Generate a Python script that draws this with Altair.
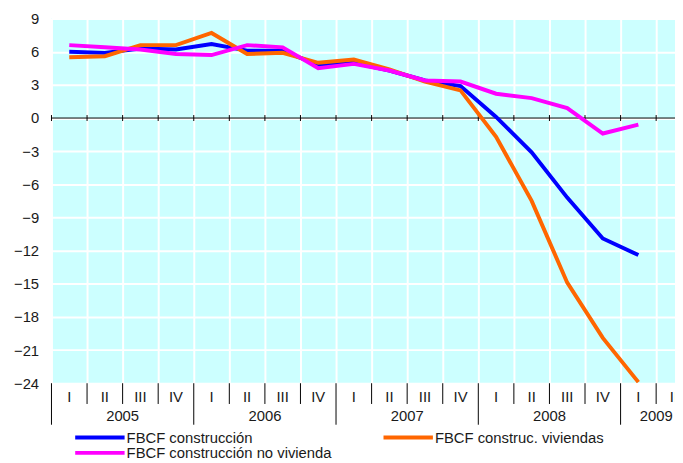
import altair as alt
import pandas as pd

# ---- data ----
years = ["2005", "2006", "2007", "2008", "2009"]
year_quarters = [4, 4, 4, 4, 2]
quarter_names = ["I", "II", "III", "IV"]
construccion = [6.0, 5.9, 6.3, 6.2, 6.7, 6.1, 6.1, 4.8, 5.0, 4.3, 3.4, 2.9, 0.1, -3.1, -7.2, -10.9, -12.4]
viviendas = [5.5, 5.6, 6.6, 6.6, 7.7, 5.8, 5.9, 5.0, 5.3, 4.4, 3.3, 2.5, -1.7, -7.5, -14.9, -19.9, -23.9]
no_vivienda = [6.6, 6.4, 6.2, 5.8, 5.7, 6.6, 6.4, 4.5, 4.9, 4.3, 3.4, 3.3, 2.2, 1.8, 0.9, -1.4, -0.6]
y_ticks = list(range(-24, 10, 3))

series_names = ["FBCF construcción", "FBCF construc. viviendas", "FBCF construcción no vivienda"]
series_colors = ["#0000FF", "#FF6600", "#FF00FF"]

N_COLS = sum(year_quarters)   # 2005 I .. 2009 II
X_MAX = 17.53                 # visible part of the axis
W, H = 631, 369
FONT = "Liberation Sans"
FS = 15
TXT = "#1a1a1a"

# ---- tables ----
rows = []
for name, vals in zip(series_names, [construccion, viviendas, no_vivienda]):
    for i, v in enumerate(vals):
        rows.append({"serie": name, "x": i + 0.5, "v": v, "ord": i})
lines_df = pd.DataFrame(rows)

q_df = pd.DataFrame([{"x": i + 0.5, "q": quarter_names[i % 4]} for i in range(N_COLS)])
bound_df = pd.DataFrame([{"x": float(i), "year": i % 4 == 0, "t0": -0.27, "t1": 0.27}
                         for i in range(N_COLS)])
qsep_df = bound_df[~bound_df["year"]]
ysep_df = bound_df[bound_df["year"]]
year_rows = []
start = 0
for y, n in zip(years, year_quarters):
    year_rows.append({"x": start + n / 2, "label": y})
    start += n
year_df = pd.DataFrame(year_rows)

xs = alt.Scale(domain=[0, X_MAX], nice=False, zero=False)
ys = alt.Scale(domain=[-24, 9], nice=False, zero=False)
cs = alt.Scale(domain=series_names, range=series_colors)

AX = alt.Axis(values=list(range(0, N_COLS)), grid=True, gridColor="white", gridWidth=2,
              gridOpacity=1, labels=False, ticks=False, domain=False, title=None)
AY = alt.Axis(values=y_ticks, grid=True, gridColor="white", gridWidth=2, gridOpacity=1,
              ticks=False, domain=False, title=None, labelPadding=13, labelOverlap=False,
              labelFont=FONT, labelFontSize=FS, labelColor=TXT)


def X(field):
    return alt.X(field, type="quantitative", scale=xs, axis=AX)


def Y(field):
    return alt.Y(field, type="quantitative", scale=ys, axis=AY)


zero_df = pd.DataFrame({"x": [0.0], "x2": [X_MAX], "y": [0.0]})
zero_line = alt.Chart(zero_df).mark_rule(color="black", strokeWidth=1).encode(
    x=X("x"), x2="x2:Q", y=Y("y"))
zero_ticks = alt.Chart(bound_df).mark_rule(color="black", strokeWidth=1).encode(
    x=X("x"), y=Y("t0"), y2="t1:Q")

lines = alt.Chart(lines_df).mark_line(strokeWidth=4, clip=True).encode(
    x=X("x"),
    y=Y("v"),
    color=alt.Color("serie:N", scale=cs, legend=None),
    order="ord:Q",
)

# category axis below the plot
qsep = alt.Chart(qsep_df).mark_rule(color="black", strokeWidth=1).encode(
    x=X("x"), y=alt.value(H), y2=alt.value(H + 21))
ysep = alt.Chart(ysep_df).mark_rule(color="black", strokeWidth=1).encode(
    x=X("x"), y=alt.value(H), y2=alt.value(H + 42))
qlab = alt.Chart(q_df).mark_text(font=FONT, fontSize=FS, color=TXT,
                                 baseline="middle").encode(
    x=X("x"), y=alt.value(H + 14.5), text="q:N")
ylab = alt.Chart(year_df).mark_text(font=FONT, fontSize=FS, color=TXT,
                                    baseline="middle").encode(
    x=X("x"), y=alt.value(H + 33.5), text="label:N")

# manual legend
leg_df = pd.DataFrame({
    "serie": series_names,
    "px": [24, 336, 24],
    "py": [H + 55, H + 55, H + 70.5],
})
leg_lines = alt.Chart(leg_df).mark_rule(strokeWidth=4).encode(
    x=alt.X("px:Q", scale=None), x2=alt.X2("px2:Q"),
    y=alt.Y("py:Q", scale=None),
    color=alt.Color("serie:N", scale=cs, legend=None),
).transform_calculate(px2="datum.px + 50")
leg_text = alt.Chart(leg_df).mark_text(font=FONT, fontSize=FS, color=TXT,
                                       align="left", baseline="middle").encode(
    x=alt.X("tx:Q", scale=None), y=alt.Y("py:Q", scale=None), text="serie:N",
).transform_calculate(tx="datum.px + 52")

chart = alt.layer(
    zero_line, zero_ticks, lines, qsep, ysep, qlab, ylab, leg_lines, leg_text
).properties(
    width=W, height=H,
    autosize=alt.AutoSizeParams(type="none"),
    padding={"left": 44, "top": 8, "right": 0, "bottom": 78},
    background="white",
).configure_view(fill="#CCFFFF", stroke=None)

chart.save("out.html", embed_options={"renderer": "svg", "actions": False})
